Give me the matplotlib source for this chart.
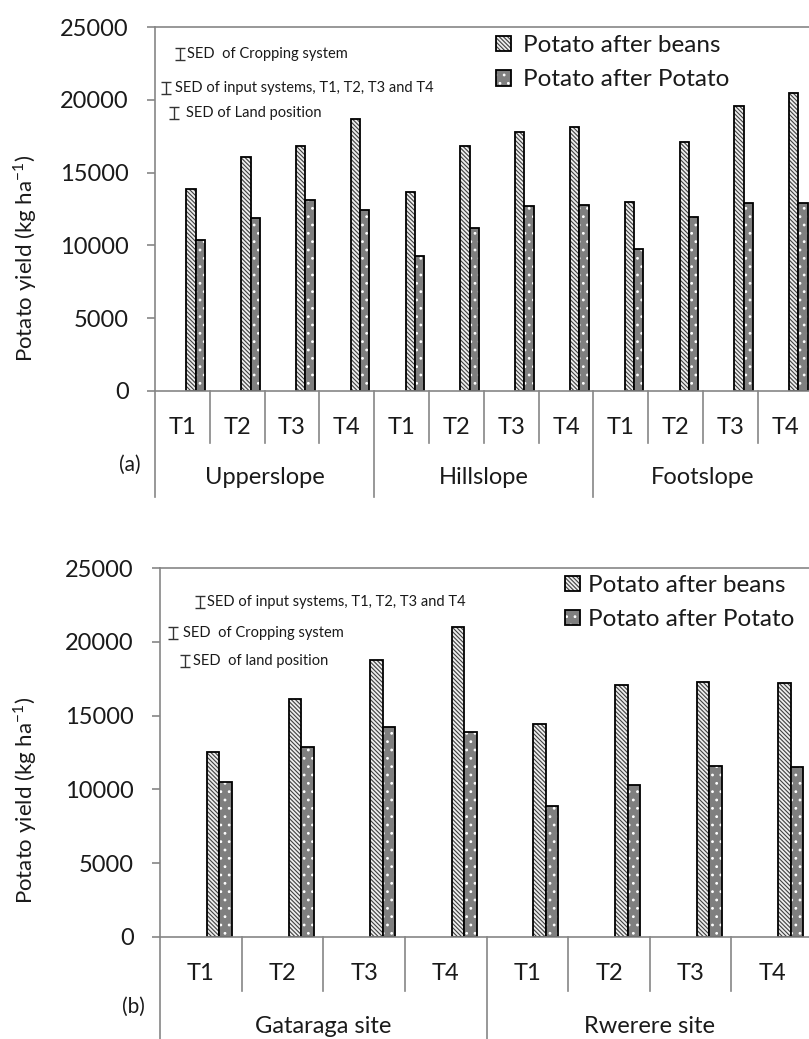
import matplotlib.pyplot as plt
import matplotlib.transforms as mtransforms
from matplotlib.patches import Patch
from matplotlib.legend_handler import HandlerTuple

plt.rcParams['font.family'] = ['Lato', 'DejaVu Sans']
plt.rcParams['hatch.linewidth'] = 0.8

treatments = ['T1', 'T2', 'T3', 'T4']

# (a) yield by land position
positions = ['Upperslope', 'Hillslope', 'Footslope']
beans_a = [13900, 16050, 16800, 18700, 13700, 16800, 17800, 18100, 13000, 17100, 19550, 20450]
potato_a = [10350, 11900, 13150, 12400, 9300, 11200, 12700, 12800, 9750, 11950, 12900, 12900]

# (b) yield by site
sites = ['Gataraga site', 'Rwerere site']
beans_b = [12500, 16100, 18800, 21000, 14400, 17100, 17300, 17200]
potato_b = [10500, 12900, 14200, 13900, 8900, 10300, 11600, 11500]

# SED bars: label, x (category units), y (kg/ha), half height, label x
sed_a = [
    ('SED  of Cropping system', -0.04, 23150, 420, 0.08),
    ('SED of input systems, T1, T2, T3 and T4', -0.30, 20800, 420, -0.14),
    ('SED of Land position', -0.15, 19100, 420, 0.06),
]
sed_b = [
    ('SED of input systems, T1, T2, T3 and T4', -0.01, 22700, 400, 0.08),
    ('SED  of Cropping system', -0.34, 20600, 400, -0.22),
    ('SED  of land position', -0.19, 18700, 400, -0.10),
]

AXIS_GRAY = '#868686'
TEXT = '#1a1a1a'
BEANS_FACE = '#eeeeee'
BEANS_HATCH = '#404040'
POTATO_FACE = '#7f7f7f'
BEANS_HATCH_PAT = '\\' * 8
POTATO_HATCH_PAT = '..'


def bean_bars(ax, x, vals, width):
    ax.bar(x, vals, width, color=BEANS_FACE, edgecolor=BEANS_HATCH,
           hatch=BEANS_HATCH_PAT, linewidth=0)
    ax.bar(x, vals, width, fill=False, edgecolor='black', linewidth=1.3)


def potato_bars(ax, x, vals, width):
    ax.bar(x, vals, width, color=POTATO_FACE, edgecolor='white',
           hatch=POTATO_HATCH_PAT, linewidth=0)
    ax.bar(x, vals, width, fill=False, edgecolor='black', linewidth=1.3)


def draw_panel(ax, groups, beans, potato, off_b, off_p, width,
               sed, tag, tag_xy, tick_depth, grp_depth, t_y, g_y):
    n = len(beans)
    idx = list(range(n))
    bean_bars(ax, [i + off_b for i in idx], beans, width)
    potato_bars(ax, [i + off_p for i in idx], potato, width)

    ax.set_xlim(-0.5, n - 0.5)
    ax.set_ylim(0, 25000)
    ax.set_yticks(range(0, 25001, 5000))
    ax.set_xticks([])
    ax.tick_params(axis='y', direction='out', length=6, width=1.2,
                   color=AXIS_GRAY, labelsize=17, labelcolor=TEXT, pad=13)
    for s in ['left', 'bottom', 'top']:
        ax.spines[s].set_color(AXIS_GRAY)
        ax.spines[s].set_linewidth(1.2)
    ax.spines['right'].set_visible(False)

    # two-level category axis under the plot
    trans = mtransforms.blended_transform_factory(ax.transData, ax.transAxes)
    for i in range(n + 1):
        depth = grp_depth if i % 4 == 0 else tick_depth
        ax.plot([i - 0.5, i - 0.5], [0, depth], transform=trans,
                color=AXIS_GRAY, lw=1.2, clip_on=False)
    for i in idx:
        ax.text(i, t_y, treatments[i % 4], transform=trans, ha='center',
                va='center', fontsize=17, color=TEXT)
    for g, name in enumerate(groups):
        ax.text(4 * g + 1.5, g_y, name, transform=trans, ha='center',
                va='center', fontsize=17, color=TEXT)
    ax.text(tag_xy[0], tag_xy[1], tag, transform=ax.transAxes, ha='center',
            va='center', fontsize=15, color=TEXT)

    for label, x, y, half, tx in sed:
        ax.errorbar([x], [y], yerr=[half], fmt='none', ecolor='#333333',
                    elinewidth=1, capsize=3.5, capthick=1)
        ax.text(tx, y, label, ha='left', va='center', fontsize=10.5, color=TEXT)


fig = plt.figure(figsize=(8.09, 10.39), dpi=100)
ax_a = fig.add_axes([0.1916, 0.6237, 0.8128, 0.3503])
ax_b = fig.add_axes([0.1978, 0.0982, 0.8072, 0.3551])

draw_panel(ax_a, positions, beans_a, potato_a, 0.158, 0.328, 0.17, sed_a,
           '(a)', (-0.038, -0.203), -0.143, -0.291, -0.099, -0.239)
draw_panel(ax_b, sites, beans_b, potato_b, 0.151, 0.304, 0.153, sed_b,
           '(b)', (-0.04, -0.19), -0.146, -0.30, -0.098, -0.244)

for fy in (0.7517, 0.230):
    fig.text(25 / 809, fy, 'Potato yield (kg ha$^{\\mathregular{-1}}$)',
             rotation=90, ha='center', va='center', fontsize=16, color=TEXT)

handles = [
    (Patch(facecolor=BEANS_FACE, edgecolor=BEANS_HATCH, hatch=BEANS_HATCH_PAT, linewidth=0),
     Patch(fill=False, edgecolor='black', linewidth=1.3)),
    (Patch(facecolor=POTATO_FACE, edgecolor='white', hatch=POTATO_HATCH_PAT, linewidth=0),
     Patch(fill=False, edgecolor='black', linewidth=1.3)),
]
labels = ['Potato after beans', 'Potato after Potato']
for ax, anchor, fs, pad in ((ax_a, (496 / 809, 0.9663), 17.5, 0.5),
                            (ax_b, (565 / 809, 0.4466), 17.5, 0.35)):
    ax.legend(handles, labels, handler_map={tuple: HandlerTuple(ndivide=1, pad=0)},
              loc='upper left', bbox_to_anchor=anchor, bbox_transform=fig.transFigure,
              frameon=False, fontsize=fs, handlelength=0.6, handleheight=0.6,
              handletextpad=pad, labelspacing=0.55, borderpad=0, borderaxespad=0,
              labelcolor=TEXT)

fig.savefig('out.png', dpi=100)
